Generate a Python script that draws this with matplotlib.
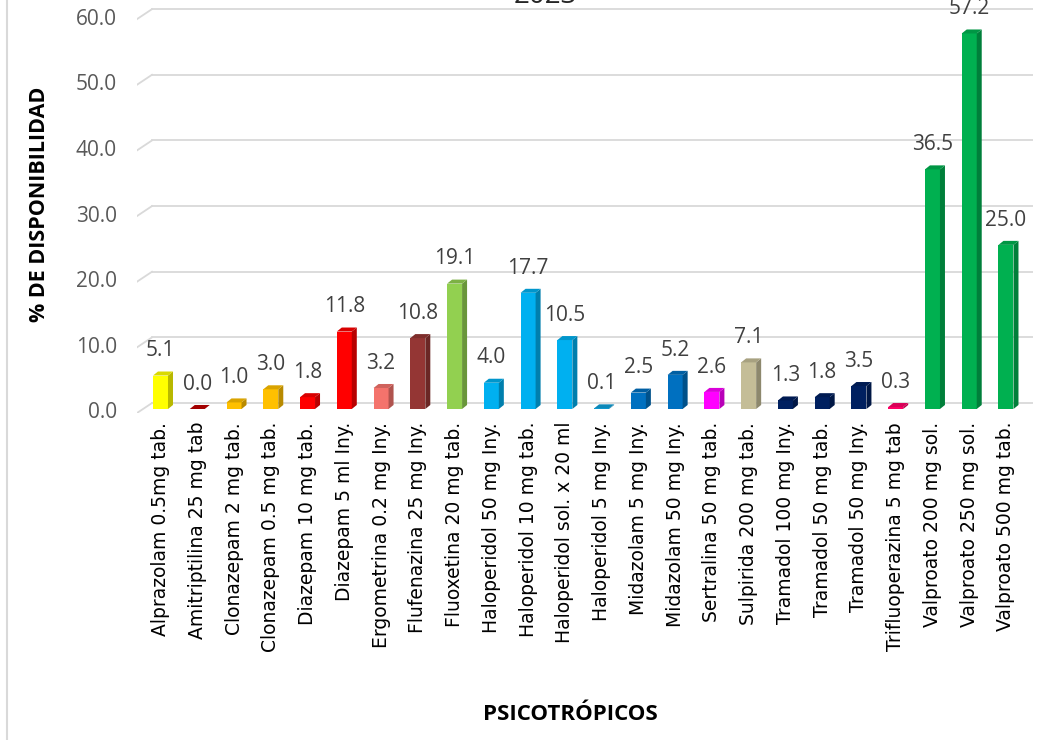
import matplotlib.pyplot as plt
from matplotlib.patches import Polygon
from matplotlib.lines import Line2D
from matplotlib.colors import to_rgb

psicotropicos = [
    "Alprazolam 0.5mg tab.", "Amitriptilina 25 mg tab", "Clonazepam 2 mg tab.",
    "Clonazepam 0.5 mg tab.", "Diazepam 10 mg tab.", "Diazepam 5 ml Iny.",
    "Ergometrina 0.2 mg Iny.", "Flufenazina 25 mg Iny.", "Fluoxetina 20 mg tab.",
    "Haloperidol 50 mg Iny.", "Haloperidol 10 mg tab.", "Haloperidol sol. x 20 ml",
    "Haloperidol 5 mg Iny.", "Midazolam 5 mg Iny.", "Midazolam 50 mg Iny.",
    "Sertralina 50 mg tab.", "Sulpirida 200 mg tab.", "Tramadol 100 mg Iny.",
    "Tramadol 50 mg tab.", "Tramadol 50 mg Iny.", "Trifluoperazina 5 mg tab",
    "Valproato 200 mg sol.", "Valproato 250 mg sol.", "Valproato 500 mg tab.",
]
disponibilidad = [5.1, 0.0, 1.0, 3.0, 1.8, 11.8, 3.2, 10.8, 19.1, 4.0, 17.7, 10.5,
                  0.1, 2.5, 5.2, 2.6, 7.1, 1.3, 1.8, 3.5, 0.3, 36.5, 57.2, 25.0]
colores = ["#FFFF00", "#C00000", "#FFC000", "#FFC000", "#FF0000", "#FF0000",
           "#F4736C", "#943634", "#92D050", "#00B0F0", "#00B0F0", "#00B0F0",
           "#0FA0D8", "#0070C0", "#0070C0", "#FF00FF", "#C4BD97", "#002060",
           "#002060", "#002060", "#FF0066", "#00B050", "#00B050", "#00B050"]
yticks = [0, 10, 20, 30, 40, 50, 60]


def shade(c, f):
    r, g, b = to_rgb(c)
    return (r * f, g * f, b * f)


fig = plt.figure(figsize=(10.57, 7.40), dpi=100)
ax = fig.add_axes([137 / 1057, 327 / 740, 896 / 1057, 413 / 740])
x0, x1 = -0.639, 23.735
ax.set_xlim(x0, x1)
ax.set_ylim(-0.61, 62.3)
ax.axis("off")

# profundidad del muro y de cada columna (unidades de datos)
px_x = 36.76
wall_dx, wall_front, wall_back = 15 / px_x, -0.61, 0.91
w, dx, dy = 15 / px_x, 5 / px_x, 0.61

for v in yticks:
    ax.add_line(Line2D([x0, x0 + wall_dx], [v + wall_front, v + wall_back],
                       color="#D9D9D9", lw=1.3, zorder=0))
    ax.add_line(Line2D([x0 + wall_dx, x1], [v + wall_back, v + wall_back],
                       color="#D9D9D9", lw=1.3, zorder=0))
    ax.text(x0 - 20 / px_x, v + wall_front, f"{v:.1f}",
            ha="right", va="center", fontsize=15, color="#595959",
            family="Open Sans")

x = list(range(len(psicotropicos)))
ax.bar(x, disponibilidad, width=w, color=colores, zorder=2)
for xi, v, c in zip(x, disponibilidad, colores):
    r = xi + w / 2
    l = xi - w / 2
    ax.add_patch(Polygon([(r, 0), (r + dx, dy), (r + dx, v + dy), (r, v)],
                         closed=True, fc=shade(c, 0.72), ec="none", zorder=2))
    ax.add_patch(Polygon([(l, v), (r, v), (r + dx, v + dy), (l + dx, v + dy)],
                         closed=True, fc=shade(c, 0.85), ec="none", zorder=2))
    ax.annotate(f"{v:.1f}", (xi, v + dy), xytext=(0, 11),
                textcoords="offset points", ha="center", va="baseline",
                fontsize=15, color="#404040", family="Open Sans")

for xi, name in zip(x, psicotropicos):
    ax.text(xi, -0.61 - 9 / 6.565, name, rotation=90, ha="center", va="top",
            fontsize=13.5, color="black", family="DejaVu Sans")

fig.text(40 / 1057, 1 - 204 / 740, "% DE DISPONIBILIDAD", rotation=90,
         ha="center", va="center", fontsize=15.5, fontweight="bold",
         family="Open Sans")
fig.text(570 / 1057, 1 - 715 / 740, "PSICOTRÓPICOS", ha="center", va="center",
         fontsize=16, fontweight="bold", family="Open Sans")
fig.text(545 / 1057, 1 - 3 / 740, "2023", ha="center", va="baseline",
         fontsize=20, color="#262626", family="Open Sans")

fig.add_artist(Line2D([7 / 1057, 7 / 1057], [0, 1], color="#D9D9D9", lw=1.5))

fig.savefig("out.png", dpi=100)
